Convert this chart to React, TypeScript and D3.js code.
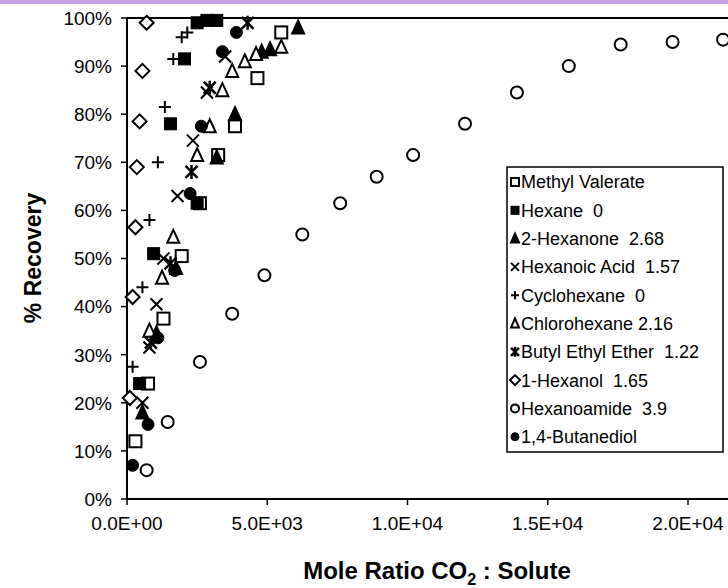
import React from "react";
import * as d3 from "d3";

// [mole ratio CO2:solute, % recovery]
const methylValerate = [[300, 12], [750, 24], [1300, 37.5], [1950, 50.5], [2600, 61.5], [3250, 71.5], [3850, 77.5], [4650, 87.5], [5500, 97]];
const hexane = [[450, 24], [950, 51], [2500, 61.5], [1550, 78], [2050, 91.5], [2500, 99], [2850, 99.5], [3200, 99.5]];
const hexanone = [[550, 18], [1050, 34.5], [1750, 48], [3200, 71], [3850, 80], [4800, 93], [5100, 93.5], [6100, 98]];
const hexanoicAcid = [[550, 20], [800, 31.5], [1050, 40.5], [1300, 50], [1800, 63], [2350, 74.5], [2850, 84.5], [3500, 92]];
const cyclohexane = [[200, 27.5], [550, 44], [800, 58], [1100, 70], [1350, 81.5], [1650, 91.5], [1950, 96], [2150, 97]];
const chlorohexane = [[800, 35], [1250, 46], [1650, 54.5], [2500, 71.5], [2950, 77.5], [3400, 85], [3750, 89], [4200, 91], [4600, 92.5], [5500, 94]];
const butylEthylEther = [[850, 32.5], [1550, 49], [2300, 68], [2950, 85.5], [4300, 99]];
const hexanol = [[100, 21], [200, 42], [300, 56.5], [350, 69], [450, 78.5], [550, 89], [700, 99]];
const hexanoamide = [[700, 6], [1450, 16], [2600, 28.5], [3750, 38.5], [4900, 46.5], [6250, 55], [7600, 61.5], [8900, 67], [10200, 71.5], [12050, 78], [13900, 84.5], [15750, 90], [17600, 94.5], [19450, 95], [21250, 95.5]];
const butanediol = [[200, 7], [750, 15.5], [1100, 33.5], [1700, 47.5], [2250, 63.5], [2650, 77.5], [3400, 93], [3900, 97]];

const legendLabels = ["Methyl Valerate", "Hexane  0", "2-Hexanone  2.68", "Hexanoic Acid  1.57", "Cyclohexane  0", "Chlorohexane 2.16", "Butyl Ethyl Ether  1.22", "1-Hexanol  1.65", "Hexanoamide  3.9", "1,4-Butanediol"];
const markerTypes = ["squareOpen", "squareFilled", "triangleFilled", "x", "plus", "triangleOpen", "asterisk", "diamond", "circleOpen", "circleFilled"];
const seriesData = [methylValerate, hexane, hexanone, hexanoicAcid, cyclohexane, chlorohexane, butylEthylEther, hexanol, hexanoamide, butanediol];

const yTicks = [0, 10, 20, 30, 40, 50, 60, 70, 80, 90, 100];
const xTicks = [0, 5000, 10000, 15000, 20000];

const W = 728, H = 588;
const font = "'Liberation Sans', Arial, Helvetica, sans-serif";

const fmtSci = (v: number) => {
  if (v === 0) return "0.0E+00";
  const e = Math.floor(Math.log10(v));
  const m = v / Math.pow(10, e);
  return `${m.toFixed(1)}E+${String(e).padStart(2, "0")}`;
};

function Marker({ type, x, y, s }: { type: string; x: number; y: number; s: number }) {
  const h = s / 2;
  const sw = 2;
  switch (type) {
    case "squareOpen":
      return <rect x={x - h} y={y - h} width={s} height={s} fill="white" stroke="black" strokeWidth={sw} />;
    case "squareFilled":
      return <rect x={x - h} y={y - h} width={s} height={s} fill="black" stroke="black" strokeWidth={1} />;
    case "triangleFilled":
    case "triangleOpen": {
      const p = `${x},${y - h - 1} ${x + h},${y + h} ${x - h},${y + h}`;
      const filled = type === "triangleFilled";
      return <polygon points={p} fill={filled ? "black" : "white"} stroke="black" strokeWidth={sw} />;
    }
    case "x":
      return <path d={`M${x - h},${y - h}L${x + h},${y + h}M${x - h},${y + h}L${x + h},${y - h}`} stroke="black" strokeWidth={sw} fill="none" />;
    case "plus":
      return <path d={`M${x - h},${y}L${x + h},${y}M${x},${y - h}L${x},${y + h}`} stroke="black" strokeWidth={sw} fill="none" />;
    case "asterisk":
      return (
        <path
          d={`M${x - h},${y - h}L${x + h},${y + h}M${x - h},${y + h}L${x + h},${y - h}M${x},${y - h - 1}L${x},${y + h + 1}`}
          stroke="black"
          strokeWidth={sw + 0.5}
          fill="none"
        />
      );
    case "diamond":
      return <polygon points={`${x},${y - h - 1} ${x + h + 1},${y} ${x},${y + h + 1} ${x - h - 1},${y}`} fill="white" stroke="black" strokeWidth={sw} />;
    case "circleOpen":
      return <circle cx={x} cy={y} r={h} fill="white" stroke="black" strokeWidth={sw} />;
    case "circleFilled":
      return <circle cx={x} cy={y} r={h} fill="black" stroke="black" strokeWidth={1} />;
    default:
      return null;
  }
}

export default function App() {
  const x = d3.scaleLinear().domain([0, 20000]).range([127, 688]);
  const y = d3.scaleLinear().domain([0, 100]).range([499, 18]);

  const legendX = 507, legendY = 167, legendW = 216, legendH = 285, rowH = 28.3;

  return (
    <svg width={W} height={H} style={{ position: "absolute", left: 0, top: 0 }} fontFamily={font}>
      <rect x={0} y={0} width={W} height={H} fill="white" />
      <rect x={0} y={0} width={W} height={4} fill="#c9a2e8" />

      {/* frame top */}
      <line x1={x(0)} x2={W} y1={y(100)} y2={y(100)} stroke="black" strokeWidth={2} />

      {/* y axis */}
      <line x1={x(0)} x2={x(0)} y1={y(0)} y2={y(100)} stroke="black" strokeWidth={2} />
      {yTicks.map((t) => (
        <g key={t}>
          <line x1={x(0) - 6} x2={x(0)} y1={y(t)} y2={y(t)} stroke="black" strokeWidth={1.5} />
          <text x={112} y={y(t)} dy="0.36em" textAnchor="end" fontSize={19}>
            {t}%
          </text>
        </g>
      ))}

      {/* x axis */}
      <line x1={x(0)} x2={W} y1={y(0)} y2={y(0)} stroke="black" strokeWidth={2} />
      {xTicks.map((t) => (
        <g key={t}>
          <line x1={x(t)} x2={x(t)} y1={y(0)} y2={y(0) + 6} stroke="black" strokeWidth={1.5} />
          <text x={x(t)} y={y(0) + 31} textAnchor="middle" fontSize={19}>
            {fmtSci(t)}
          </text>
        </g>
      ))}

      <text x={437} y={579} textAnchor="middle" fontSize={24} fontWeight="bold">
        Mole Ratio CO<tspan fontSize={16} dy={6}>2</tspan>
        <tspan dy={-6}> : Solute</tspan>
      </text>
      <text transform="translate(41,258) rotate(-90)" textAnchor="middle" fontSize={23} fontWeight="bold">
        % Recovery
      </text>

      {/* points */}
      {seriesData.map((pts, i) => (
        <g key={i}>
          {pts.map(([px, py], j) => (
            <Marker key={j} type={markerTypes[i]} x={x(px)} y={y(py)} s={12} />
          ))}
        </g>
      ))}

      {/* legend */}
      <rect x={legendX} y={legendY} width={legendW} height={legendH} fill="white" stroke="black" strokeWidth={1.5} />
      {legendLabels.map((lab, i) => {
        const cy = legendY + 15 + i * rowH;
        return (
          <g key={lab}>
            <Marker type={markerTypes[i]} x={legendX + 8} y={cy} s={8} />
            <text x={legendX + 14} y={cy} dy="0.36em" fontSize={18} style={{ whiteSpace: "pre" }}>
              {lab}
            </text>
          </g>
        );
      })}
    </svg>
  );
}
